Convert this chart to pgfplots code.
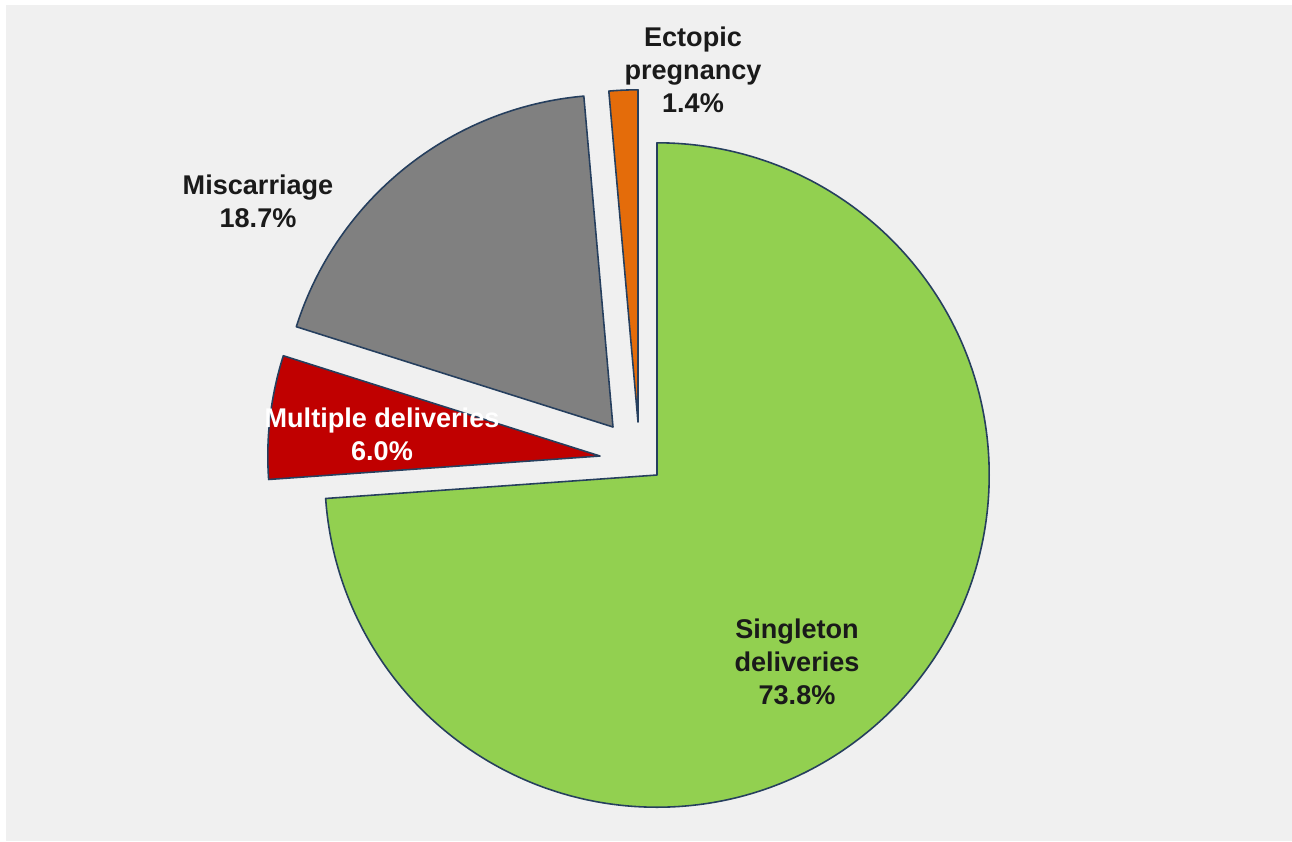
\documentclass[border=0pt]{standalone}
\usepackage{pgfplots}
\pgfplotsset{compat=1.18}
\usepackage{pgfplotstable}
\usepackage{fontspec}
\setmainfont{Liberation Sans}
\definecolor{bgc}{HTML}{F0F0F0}
\definecolor{cSing}{HTML}{92D050}
\definecolor{cMult}{HTML}{C00000}
\definecolor{cMisc}{HTML}{808080}
\definecolor{cEct}{HTML}{E46C0A}
\definecolor{edge}{HTML}{263F5E}
\definecolor{txt}{HTML}{1A1A1A}

% value = percent; dx, dy = explosion offset of the slice (pixel units)
\pgfplotstableread{
name value dx dy
Singleton 73.8 0 0
Multiple 6.0 -57 19
Miscarriage 18.7 -44 48
Ectopic 1.4 -19 53
}\piedata

\newcommand\getval[3]{\pgfplotstablegetelem{#1}{#2}\of\piedata\global\let#3\pgfplotsretval}
\getval{0}{value}\vA \getval{1}{value}\vB \getval{2}{value}\vC \getval{3}{value}\vD
\getval{0}{dx}\xA \getval{1}{dx}\xB \getval{2}{dx}\xC \getval{3}{dx}\xD
\getval{0}{dy}\yA \getval{1}{dy}\yB \getval{2}{dy}\yC \getval{3}{dy}\yD
\pgfmathsetmacro\tot{\vA+\vB+\vC+\vD}
\pgfmathsetmacro\aO{90}
\pgfmathsetmacro\aA{\aO-3.6*(\vA*(100/\tot))}
\pgfmathsetmacro\aB{\aA-3.6*(\vB*(100/\tot))}
\pgfmathsetmacro\aC{\aB-3.6*(\vC*(100/\tot))}
\pgfmathsetmacro\aD{\aC-3.6*(\vD*(100/\tot))}
\def\cx{657}\def\cy{366}
\pgfmathsetmacro\pAx{\cx+\xA}\pgfmathsetmacro\pAy{\cy+\yA}
\pgfmathsetmacro\pBx{\cx+\xB}\pgfmathsetmacro\pBy{\cy+\yB}
\pgfmathsetmacro\pCx{\cx+\xC}\pgfmathsetmacro\pCy{\cy+\yC}
\pgfmathsetmacro\pDx{\cx+\xD}\pgfmathsetmacro\pDy{\cy+\yD}
\def\R{3.32cm}

\begin{document}%
\begin{tikzpicture}
\begin{axis}[
  x=0.01cm, y=0.01cm,
  xmin=0, xmax=1292, ymin=0, ymax=841,
  enlargelimits=false, hide axis, clip=false,
]
\fill[white] (axis cs:0,0) rectangle (axis cs:1292,841);
\fill[bgc] (axis cs:6,0) rectangle (axis cs:1292,836);
\filldraw[fill=cSing, draw=edge, line width=0.45pt, line join=round]
  (axis cs:\pAx,\pAy) -- ++(\aO:\R) arc[start angle=\aO, end angle=\aA, radius=\R] -- cycle;
\filldraw[fill=cMult, draw=edge, line width=0.45pt, line join=round]
  (axis cs:\pBx,\pBy) -- ++(\aA:\R) arc[start angle=\aA, end angle=\aB, radius=\R] -- cycle;
\filldraw[fill=cMisc, draw=edge, line width=0.45pt, line join=round]
  (axis cs:\pCx,\pCy) -- ++(\aB:\R) arc[start angle=\aB, end angle=\aC, radius=\R] -- cycle;
\filldraw[fill=cEct, draw=edge, line width=0.45pt, line join=round]
  (axis cs:\pDx,\pDy) -- ++(\aC:\R) arc[start angle=\aC, end angle=\aD, radius=\R] -- cycle;
\tikzset{lab/.style={inner sep=0pt, align=center, font=\fontsize{7.7}{9.4}\selectfont\bfseries}}
\node[lab, text=txt] at (axis cs:797,179) {Singleton\\deliveries\\73.8\%};
\node[lab, text=white] at (axis cs:382,407) {Multiple deliveries\\6.0\%};
\node[lab, text=txt] at (axis cs:258,640) {Miscarriage\\18.7\%};
\node[lab, text=txt] at (axis cs:693,771) {Ectopic\\pregnancy\\1.4\%};
\end{axis}
\end{tikzpicture}%
\end{document}
